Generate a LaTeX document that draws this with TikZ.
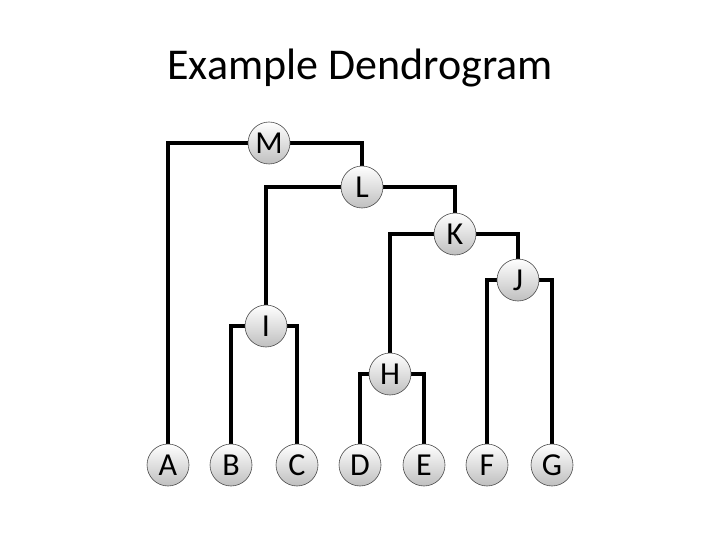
\documentclass[tikz,border=0pt]{standalone}
\usepackage{fontspec}
\setmainfont{Carlito}
\begin{document}
\begin{tikzpicture}[x=1pt,y=-1pt,
  nd/.style={circle,draw=black!70,line width=0.6pt,inner sep=0pt,minimum size=42pt,top color=white,bottom color=black!25,font=\fontsize{32}{32}\selectfont},
  br/.style={line width=3.5pt}]
\useasboundingbox (0,0) rectangle (720,540);
\node at (360,68) {\fontsize{44}{44}\selectfont Example Dendrogram};
\foreach \n/\x/\y in {M/269/143,L/362/187,K/455/234,J/518/280,I/266/326,H/390/374,A/168/465,B/231/465,C/297/465,D/360/465,E/424/465,F/487/465,G/552/465}
  \coordinate (p\n) at (\x,\y);
\draw[br] (pM) -| (pA) (pM) -| (pL);
\draw[br] (pL) -| (pI) (pL) -| (pK);
\draw[br] (pK) -| (pH) (pK) -| (pJ);
\draw[br] (pJ) -| (pF) (pJ) -| (pG);
\draw[br] (pI) -| (pB) (pI) -| (pC);
\draw[br] (pH) -| (pD) (pH) -| (pE);
\foreach \n in {M,L,K,J,I,H,A,B,C,D,E,F,G}
  \node[nd] (\n) at (p\n) {\n};
\end{tikzpicture}
\end{document}
